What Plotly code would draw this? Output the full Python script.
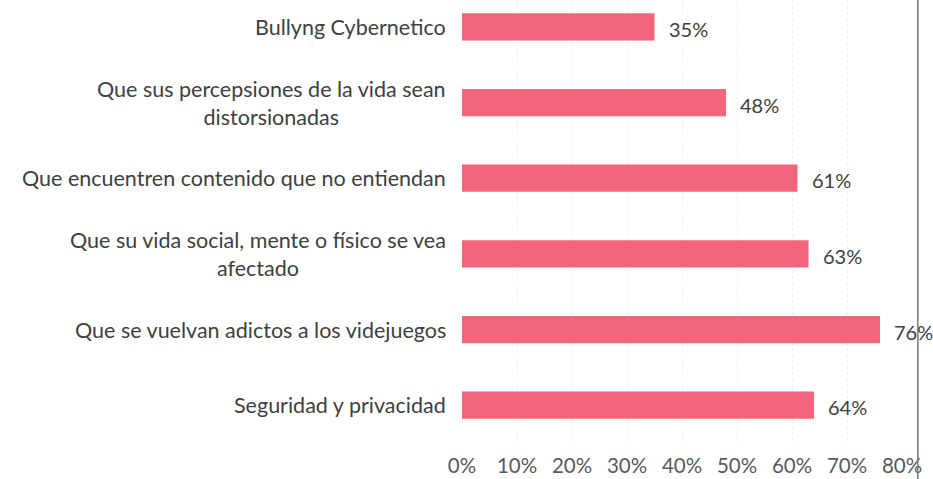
import plotly.graph_objects as go

categories = [
    "Seguridad y privacidad",
    "Que se vuelvan adictos a los videjuegos",
    "Que su vida social, mente o físico se vea<br>afectado",
    "Que encuentren contenido que no entiendan",
    "Que sus percepsiones de la vida sean<br>distorsionadas",
    "Bullyng Cybernetico",
]
values = [0.64, 0.76, 0.63, 0.61, 0.48, 0.35]
value_labels = ["64%", "76%", "63%", "61%", "48%", "35%"]
tick_vals = [0, 0.1, 0.2, 0.3, 0.4, 0.5, 0.6, 0.7, 0.8]
tick_text = ["0%", "10%", "20%", "30%", "40%", "50%", "60%", "70%", "80%"]

FONT = "Lato, Open Sans, sans-serif"
fig = go.Figure()
fig.add_trace(go.Bar(
    x=values, y=categories, orientation="h",
    marker=dict(color="#f2657b", line=dict(width=0)),
    width=0.36,
    cliponaxis=False,
    hoverinfo="skip",
))

for c in categories:
    fig.add_annotation(
        x=0, y=c, xref="x", yref="y", text=c, showarrow=False,
        xanchor="right", align="center", xshift=-14,
        font=dict(family=FONT, size=21.5, color="#404040"),
    )

for c, v, t in zip(categories, values, value_labels):
    fig.add_annotation(
        x=v, y=c, xref="x", yref="y", text=t, showarrow=False,
        xanchor="left", xshift=12, yshift=-2,
        font=dict(family=FONT, size=20, color="#404040"),
    )

fig.add_shape(type="line", xref="paper", yref="paper", x0=1.036, x1=1.036,
              y0=-0.1, y1=1.05, line=dict(color="#777777", width=1.5))

fig.update_layout(
    width=933, height=479,
    margin=dict(l=462, r=31, t=0, b=36),
    paper_bgcolor="white", plot_bgcolor="white",
    showlegend=False,
    xaxis=dict(range=[0, 0.8], tickvals=tick_vals, ticktext=tick_text,
               showgrid=True, gridcolor="#efefef", griddash="dot", gridwidth=1,
               zeroline=False, showline=False, ticklabelstandoff=8,
               tickfont=dict(family=FONT, size=20.5, color="#5a5a5a")),
    yaxis=dict(type="category", range=[-0.5, 5.355], showticklabels=False,
               showgrid=False, zeroline=False, showline=False),
)
fig.write_html("out.html", config={"displayModeBar": False},
               post_script="document.body.style.margin='0';document.body.style.overflow='hidden';")
